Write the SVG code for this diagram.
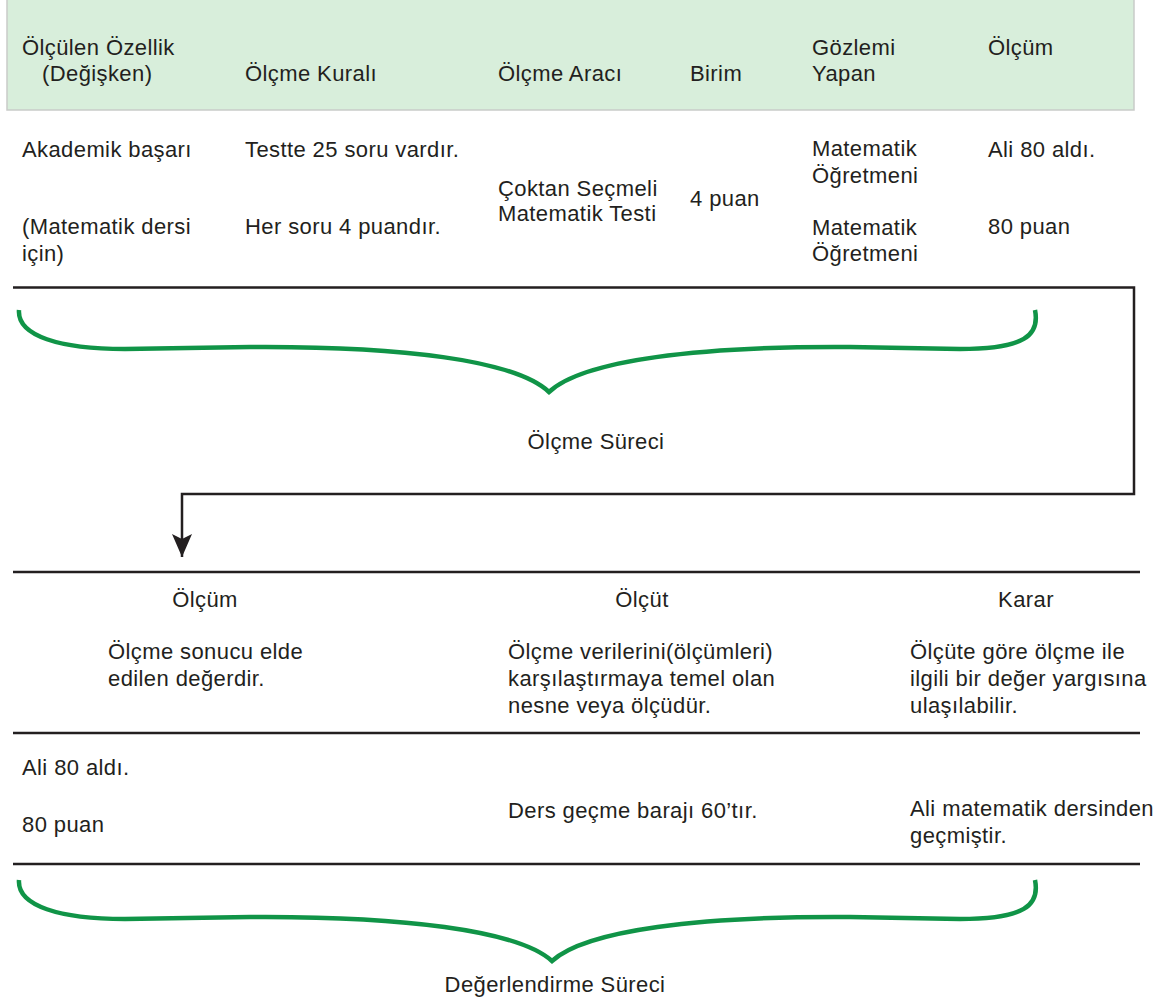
<svg xmlns="http://www.w3.org/2000/svg" width="1166" height="1003" viewBox="0 0 1166 1003">
<defs>
<style>
text{font-family:"Liberation Sans",Arial,sans-serif;font-size:22px;fill:#231f20;letter-spacing:0.4px}
.c{text-anchor:middle}
.rule{stroke:#231f20;stroke-width:2.5;fill:none}
.brace{stroke:#109447;stroke-width:4.5;fill:none;stroke-linecap:butt}
</style>
<marker id="ah" markerWidth="24" markerHeight="22" refX="23" refY="11" orient="auto" markerUnits="userSpaceOnUse" viewBox="0 0 24 22">
<path d="M0,1 L5,11 L0,21 L23,11 Z" fill="#231f20"/>
</marker>
</defs>
<rect width="1166" height="1003" fill="#ffffff"/>

<g id="header">
<rect x="7" y="-1" width="1127" height="111" fill="#d8eedb" stroke="#c9cbc9" stroke-width="1.5"/>
<text x="22" y="55">Ölçülen Özellik</text>
<text x="42" y="81">(Değişken)</text>
<text x="245" y="81">Ölçme Kuralı</text>
<text x="498" y="81">Ölçme Aracı</text>
<text x="690" y="81">Birim</text>
<text x="812" y="55">Gözlemi</text>
<text x="812" y="81">Yapan</text>
<text x="988" y="55">Ölçüm</text>
</g>

<g id="table-rows">
<text x="22" y="157">Akademik başarı</text>
<text x="22" y="234">(Matematik dersi</text>
<text x="22" y="261">için)</text>
<text x="245" y="157">Testte 25 soru vardır.</text>
<text x="245" y="234">Her soru 4 puandır.</text>
<text x="498" y="196">Çoktan Seçmeli</text>
<text x="498" y="221">Matematik Testi</text>
<text x="690" y="206">4 puan</text>
<text x="812" y="156">Matematik</text>
<text x="812" y="183">Öğretmeni</text>
<text x="812" y="235">Matematik</text>
<text x="812" y="261">Öğretmeni</text>
<text x="988" y="157">Ali 80 aldı.</text>
<text x="988" y="234">80 puan</text>
</g>

<g id="connectors">
<path class="rule" d="M13,287.5 H1134 V494 H182 V557" marker-end="url(#ah)"/>
<line class="rule" x1="13" y1="572" x2="1140" y2="572"/>
<line class="rule" x1="13" y1="733" x2="1140" y2="733"/>
<line class="rule" x1="13" y1="864" x2="1140" y2="864"/>
</g>

<g id="olcme-sureci">
<path class="brace" d="M19,310 C17,336 60,349 125,349 L250,347 C400,346 515,360 549,392 C583,360 700,346 850,347 L960,349 C1025,349 1040,335 1035,310"/>
<text class="c" x="596" y="449">Ölçme Süreci</text>
</g>

<g id="olcum">
<text class="c" x="205" y="607">Ölçüm</text>
<text x="108" y="659">Ölçme sonucu elde</text>
<text x="108" y="686">edilen değerdir.</text>
</g>

<g id="olcut">
<text class="c" x="642" y="607">Ölçüt</text>
<text x="508" y="659">Ölçme verilerini(ölçümleri)</text>
<text x="508" y="686">karşılaştırmaya temel olan</text>
<text x="508" y="713">nesne veya ölçüdür.</text>
</g>

<g id="karar">
<text class="c" x="1026" y="607">Karar</text>
<text x="910" y="659">Ölçüte göre ölçme ile</text>
<text x="910" y="686">ilgili bir değer yargısına</text>
<text x="910" y="713">ulaşılabilir.</text>
</g>

<g id="examples">
<text x="22" y="775">Ali 80 aldı.</text>
<text x="22" y="832">80 puan</text>
<text x="508" y="818">Ders geçme barajı 60’tır.</text>
<text x="910" y="816">Ali matematik dersinden</text>
<text x="910" y="843">geçmiştir.</text>
</g>

<g id="degerlendirme-sureci">
<path class="brace" d="M19,880 C17,906 60,919 125,919 L250,917 C400,916 518,930 552,961 C586,930 700,916 850,917 L960,919 C1025,919 1040,905 1035,880"/>
<text class="c" x="555" y="992">Değerlendirme Süreci</text>
</g>
</svg>
